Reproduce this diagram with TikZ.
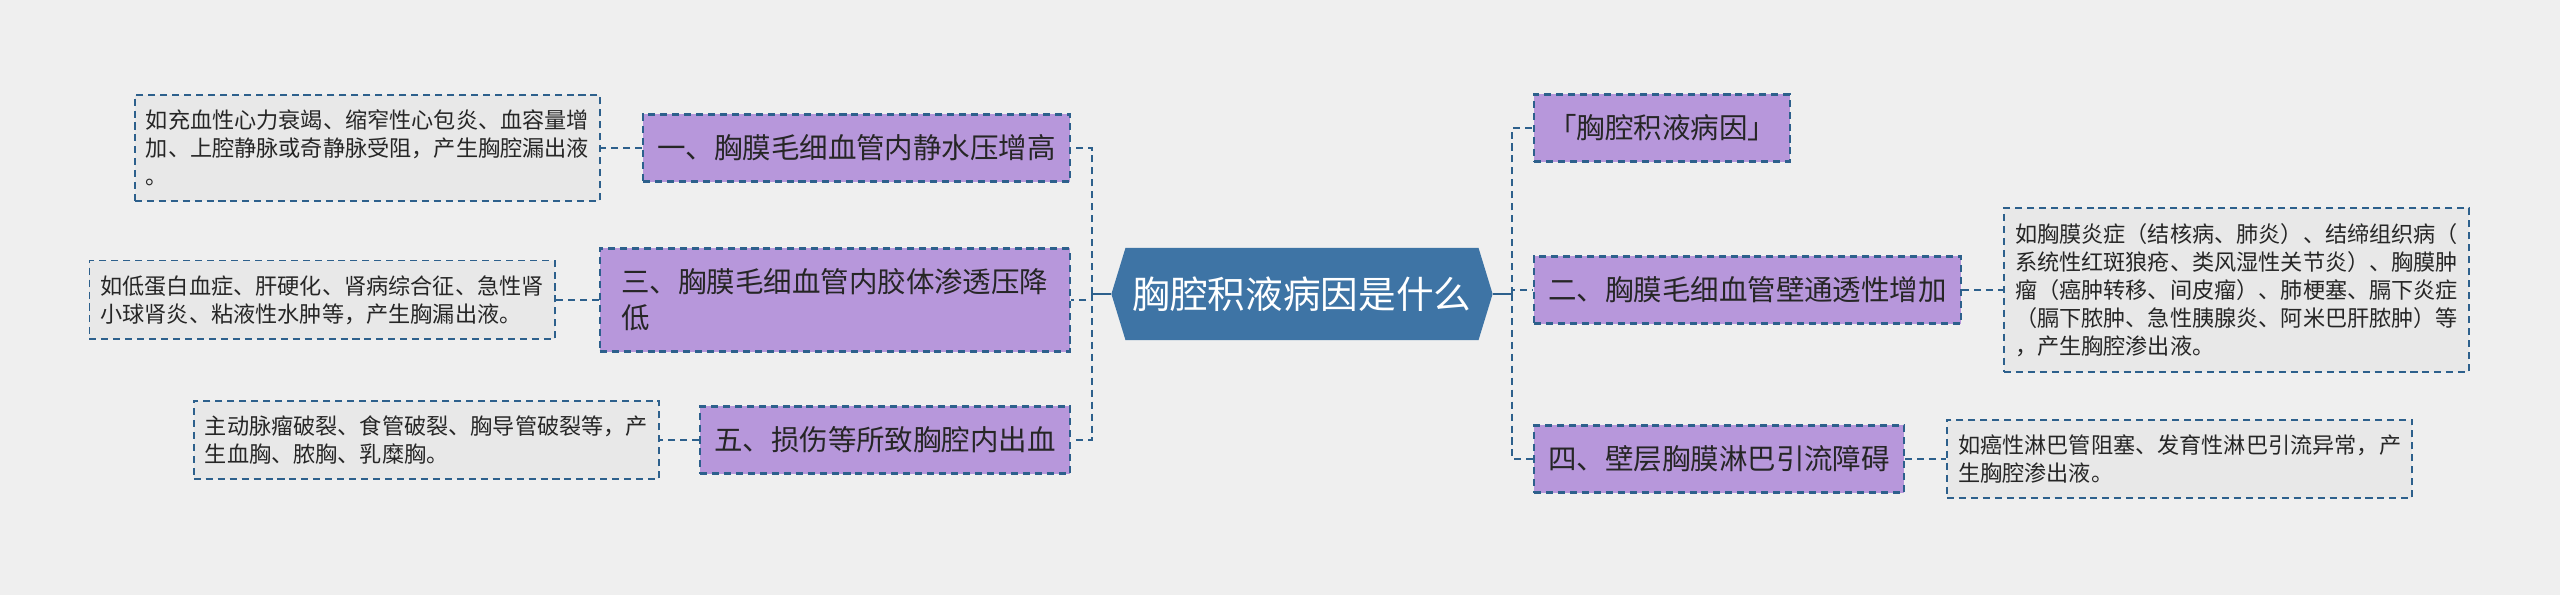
\documentclass[tikz,border=0pt]{standalone}
\usepackage{fontspec}
\setmainfont{Noto Sans CJK SC}
\usepackage{xcolor}
\usepackage{tikz}
\usetikzlibrary{shapes.symbols, positioning}
\definecolor{mmbg}{RGB}{239,239,239}
\definecolor{mmblue}{RGB}{45,96,140}
\definecolor{mmroot}{RGB}{62,116,165}
\definecolor{mmpurple}{RGB}{183,151,219}
\definecolor{mmnotefill}{RGB}{232,232,232}
\definecolor{mmtext}{RGB}{38,38,38}
\tikzset{
  rootnode/.style  = {signal, signal to=west and east, signal pointer angle=146,
                      fill=mmroot, text=white, minimum width=3.81cm, minimum height=0.92cm,
                      inner sep=0pt, font=\fontsize{10.7}{12}\selectfont},
  branchbox/.style = {rectangle, draw=mmblue, line width=0.6pt, dash pattern=on 2pt off 1.4pt,
                      fill=mmpurple, text=mmtext, align=left, minimum height=0.67cm,
                      inner xsep=4pt, inner ysep=5pt, font=\fontsize{8.1}{10.2}\selectfont},
  notebox/.style   = {rectangle, draw=mmblue, line width=0.5pt, dash pattern=on 2pt off 1.4pt,
                      fill=mmnotefill, text=mmtext, align=left, minimum width=4.65cm,
                      inner xsep=3pt, inner ysep=4.2pt, font=\fontsize{6.3}{8}\selectfont},
  stemline/.style  = {draw=mmblue, line width=0.8pt},
  twigline/.style  = {draw=mmblue, line width=0.6pt, dash pattern=on 2pt off 1.4pt},
}

\begin{document}
\begin{tikzpicture}[x=0.01cm, y=-0.01cm, node distance=0.41cm]
\fill[mmbg] (0,0) rectangle (2560,595);
\useasboundingbox (0,0) rectangle (2560,595);

% ---------- Root ----------
\node[rootnode] (root) at (1302,294) {胸腔积液病因是什么};
\coordinate (lspine) at (1092,294);
\coordinate (rspine) at (1512,294);

% ---------- Left branches ----------
\node[branchbox, anchor=east] (hydro) at (1071,148) {一、胸膜毛细血管内静水压增高};
\node[branchbox, anchor=east, minimum width=4.7cm, minimum height=1.03cm] (colloid) at (1071,300)
  {三、胸膜毛细血管内胶体渗透压降\\低};
\node[branchbox, anchor=east] (bleed) at (1071,440) {五、损伤等所致胸腔内出血};

\node[notebox, left=of hydro] (hydronote)
  {如充血性心力衰竭、缩窄性心包炎、血容量增\\加、上腔静脉或奇静脉受阻，产生胸腔漏出液\\。};
\node[notebox, left=0.43cm of colloid] (colloidnote)
  {如低蛋白血症、肝硬化、肾病综合征、急性肾\\小球肾炎、粘液性水肿等，产生胸漏出液。};
\node[notebox, left=0.39cm of bleed] (bleednote)
  {主动脉瘤破裂、食管破裂、胸导管破裂等，产\\生血胸、脓胸、乳糜胸。};

% ---------- Right branches ----------
\node[branchbox, anchor=west] (cause) at (1533,128) {「胸腔积液病因」};
\node[branchbox, anchor=west] (perm) at (1533,290) {二、胸膜毛细血管壁通透性增加};
\node[branchbox, anchor=west] (lymph) at (1533,459) {四、壁层胸膜淋巴引流障碍};

\node[notebox, right=of perm] (permnote)
  {如胸膜炎症（结核病、肺炎）、结缔组织病（\\系统性红斑狼疮、类风湿性关节炎）、胸膜肿\\瘤（癌肿转移、间皮瘤）、肺梗塞、膈下炎症\\（膈下脓肿、急性胰腺炎、阿米巴肝脓肿）等\\，产生胸腔渗出液。};
\node[notebox, right=of lymph] (lymphnote)
  {如癌性淋巴管阻塞、发育性淋巴引流异常，产\\生胸腔渗出液。};

% ---------- Edges ----------
\draw[stemline] (root.west) -- (lspine);
\draw[stemline] (root.east) -- (rspine);
\draw[twigline] (lspine) |- (hydro.east);
\draw[twigline] (lspine) |- (colloid.east);
\draw[twigline] (lspine) |- (bleed.east);
\draw[twigline] (rspine) |- (cause.west);
\draw[twigline] (rspine) |- (perm.west);
\draw[twigline] (rspine) |- (lymph.west);
\draw[twigline] (hydro) -- (hydronote);
\draw[twigline] (colloid) -- (colloidnote);
\draw[twigline] (bleed) -- (bleednote);
\draw[twigline] (perm) -- (permnote);
\draw[twigline] (lymph) -- (lymphnote);

\end{tikzpicture}
\end{document}
